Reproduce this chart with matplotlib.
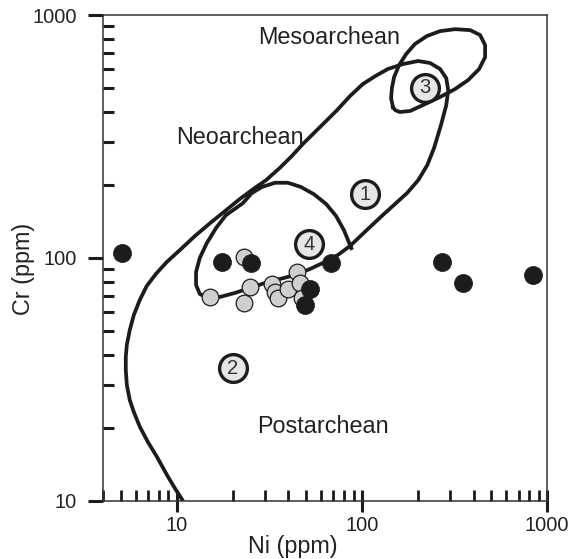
import matplotlib
matplotlib.use("Agg")
import matplotlib.pyplot as plt
from matplotlib import ticker

plt.rcParams['font.family'] = ['Liberation Sans', 'DejaVu Sans']

# field boundaries (Ni ppm, Cr ppm)
spiral_ni = [10.8, 9.88, 8.94, 7.80, 6.97, 6.31, 5.86, 5.57, 5.37, 5.30, 5.30, 5.37, 5.57,
             5.86, 6.31, 6.88, 7.70, 8.83, 10.4, 12.5, 15.1, 18.2, 21.9, 25.8, 30.3, 36.0,
             41.8, 48.0, 59.3, 73.3, 86.1, 101, 118, 138, 167, 201, 233, 264, 285, 292,
             285, 267, 245, 225, 201, 175, 151, 128, 108, 86.1, 74.2, 63.1, 52.4, 43.4,
             36.0, 29.9, 24.8, 20.6, 17.1, 14.7, 13.3, 12.7, 12.7, 13.3, 14.5, 16.3, 18.4,
             22.7, 25.4, 28.8, 33.9, 39.8, 46.8, 55.0, 63.9, 72.4, 79.9, 88.3]
spiral_cr = [10.0, 11.1, 12.6, 15.2, 17.5, 20.2, 23.2, 26.0, 30.0, 34.6, 39.1, 43.9, 50.5,
             58.3, 67.2, 76.7, 85.9, 96.3, 107.9, 123, 139, 156, 175, 192, 209, 235,
             263, 295, 346, 406, 464, 520, 561, 600, 629, 647, 635, 600, 550, 491,
             426, 353, 284, 241, 209, 185, 167, 149, 132, 112, 103, 96.3, 90.1, 85.1,
             81.9, 78.9, 75.2, 71.8, 69.1, 68.5, 71.1, 77.4, 87.6, 100, 115, 133, 150,
             168, 185, 196, 204, 204, 196, 183, 167, 149, 130, 108]

meso_ni = [147, 143.5, 145, 149, 158.5, 173, 193, 224, 264, 318, 384, 434, 462, 462,
           429, 374, 318, 264, 219, 182, 160, 151, 147]
meso_cr = [418, 455, 501, 556, 622, 691, 760, 820, 859, 875, 867, 828, 752, 671,
           600, 540, 496, 460, 430, 403, 399, 406, 418]

# samples
black_ni = [5.05, 17.5, 25.1, 67.9, 52.4, 49.2, 270, 352, 840]
black_cr = [105, 96.3, 95.3, 95.3, 74.5, 64.1, 96.3, 78.9, 85.1]
gray_ni = [15.1, 23.0, 24.8, 23.0, 32.7, 33.9, 35.2, 44.6, 39.8, 46.2, 47.4]
gray_cr = [69.2, 101, 76.0, 65.3, 78.2, 72.4, 68.4, 87.5, 74.5, 78.9, 68.4]

# numbered field markers
num_labels = ['1', '2', '3', '4']
num_ni = [104, 20.1, 219, 51.8]
num_cr = [183, 35.2, 501, 114]

# field names
field_names = ['Mesoarchean', 'Neoarchean', 'Postarchean']
field_ni = [66.4, 21.9, 61.5]
field_cr = [811, 312, 20.2]

fig = plt.figure(figsize=(5.73, 5.59), dpi=100)
ax = fig.add_axes([0.180, 0.104, 0.775, 0.869])
ax.set_xscale('log')
ax.set_yscale('log')
ax.set_xlim(4, 1000)
ax.set_ylim(10, 1000)

ink = '#1c1c1c'
ax.plot(spiral_ni, spiral_cr, color=ink, lw=2.7, solid_joinstyle='round',
        solid_capstyle='butt', zorder=2)
ax.plot(meso_ni, meso_cr, color=ink, lw=2.7, solid_joinstyle='round', zorder=2)

ax.plot(gray_ni, gray_cr, 'o', ms=12, mfc='#cfcfcf', mec=ink, mew=0.9, zorder=3)
ax.plot(black_ni, black_cr, 'o', ms=13, mfc=ink, mec=ink, mew=0.5, zorder=4)

for lab, x, y in zip(num_labels, num_ni, num_cr):
    ax.plot(x, y, 'o', ms=20, mfc='#e6e6e6', mec=ink, mew=2.4, zorder=5)
    ax.text(x, y, lab, ha='center', va='center', fontsize=14.5, color='#333333', zorder=6)

for name, x, y in zip(field_names, field_ni, field_cr):
    ax.text(x, y, name, ha='center', va='center', fontsize=16.8, color='#222222')

for s in ax.spines.values():
    s.set_linewidth(1.1)
    s.set_color('#333333')

fmt = ticker.FuncFormatter(lambda v, p: '{:g}'.format(v))
ax.xaxis.set_major_formatter(fmt)
ax.yaxis.set_major_formatter(fmt)
ax.xaxis.set_minor_formatter(ticker.NullFormatter())
ax.yaxis.set_minor_formatter(ticker.NullFormatter())

ax.tick_params(axis='y', which='major', direction='out', length=10.8, width=2.2,
               color=ink, labelsize=14.4, pad=8, labelcolor='#222222')
ax.tick_params(axis='y', which='minor', direction='in', length=7.9, width=2.2, color=ink)
ax.tick_params(axis='x', which='major', direction='inout', length=16.5, width=2.2,
               color=ink, labelsize=14.4, pad=3, labelcolor='#222222')
ax.tick_params(axis='x', which='minor', direction='in', length=7.9, width=2.0, color=ink)

ax.set_xlabel('Ni (ppm)', fontsize=16.8, color='#222222')
ax.set_ylabel('Cr (ppm)', fontsize=16.8, color='#222222')
ax.xaxis.set_label_coords(0.428, -0.070)
ax.yaxis.set_label_coords(-0.153, 0.477)

fig.savefig('out.png', dpi=100)
